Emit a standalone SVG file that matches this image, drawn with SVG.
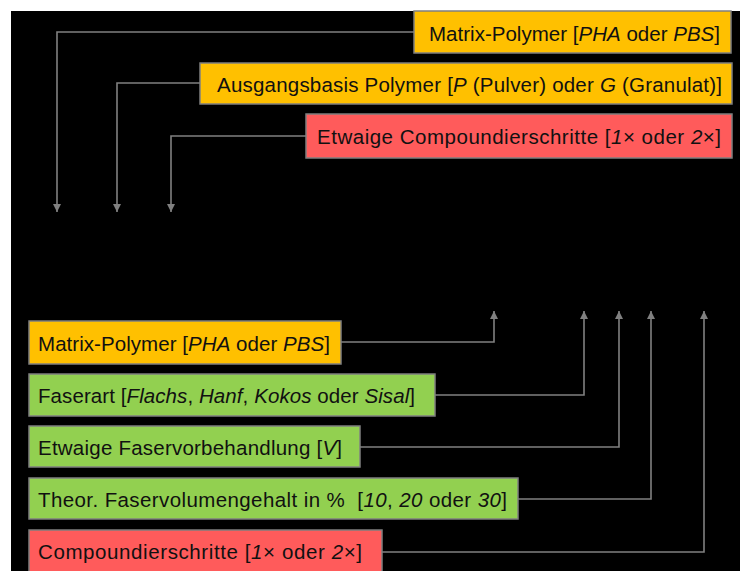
<svg xmlns="http://www.w3.org/2000/svg" width="740" height="571" viewBox="0 0 740 571">
<style>
.bg{fill:#000}
.box{stroke:#7f7f7f;stroke-width:1.5}
.o{fill:#FFC000}
.g{fill:#92D050}
.r{fill:#FF5B5B}
text{font-family:"Liberation Sans",Arial,sans-serif;font-size:20.5px;fill:#111;white-space:pre}
.i{font-style:italic}
.conn path{fill:none;stroke:#808080;stroke-width:1.6;marker-end:url(#arr)}
</style>
<defs>
<marker id="arr" markerUnits="userSpaceOnUse" markerWidth="8" markerHeight="9" refX="8" refY="4" orient="auto" viewBox="0 0 8 8">
<path d="M0,0 L8,4 L0,8 z" fill="#808080"/>
</marker>
</defs>
<rect x="0" y="0" width="740" height="571" fill="#fff"/>
<rect class="bg" x="11" y="11" width="729" height="560"/>
<g class="conn">
<path d="M414,32 H57 V212"/>
<path d="M200,83 H117 V212"/>
<path d="M306,136 H171 V212"/>
<path d="M341,342 H494 V311"/>
<path d="M435,395 H584 V311"/>
<path d="M360,447 H619 V311"/>
<path d="M518,499 H651 V311"/>
<path d="M382,552 H704 V311"/>
</g>
<g id="top-matrix">
<rect class="box o" x="414" y="11" width="317" height="42"/>
<text x="429" y="41" textLength="291" lengthAdjust="spacing">Matrix-Polymer [<tspan class="i">PHA</tspan> oder <tspan class="i">PBS</tspan>]</text>
</g>
<g id="top-basis">
<rect class="box o" x="200" y="63" width="532" height="41"/>
<text x="217" y="92" textLength="505" lengthAdjust="spacing">Ausgangsbasis Polymer [<tspan class="i">P</tspan> (Pulver) oder <tspan class="i">G</tspan> (Granulat)]</text>
</g>
<g id="top-compound">
<rect class="box r" x="306" y="114" width="426" height="44"/>
<text x="317" y="144" textLength="404" lengthAdjust="spacing">Etwaige Compoundierschritte [<tspan class="i">1</tspan>× oder <tspan class="i">2</tspan>×]</text>
</g>
<g id="bot-matrix">
<rect class="box o" x="29" y="321" width="312" height="43"/>
<text x="38" y="351" textLength="292" lengthAdjust="spacing">Matrix-Polymer [<tspan class="i">PHA</tspan> oder <tspan class="i">PBS</tspan>]</text>
</g>
<g id="bot-faserart">
<rect class="box g" x="29" y="374" width="406" height="42"/>
<text x="38" y="403" textLength="377" lengthAdjust="spacing">Faserart [<tspan class="i">Flachs</tspan>, <tspan class="i">Hanf</tspan>, <tspan class="i">Kokos</tspan> oder <tspan class="i">Sisal</tspan>]</text>
</g>
<g id="bot-vorbehandlung">
<rect class="box g" x="29" y="426" width="331" height="41"/>
<text x="38" y="455" textLength="304" lengthAdjust="spacing">Etwaige Faservorbehandlung [<tspan class="i">V</tspan>]</text>
</g>
<g id="bot-volumen">
<rect class="box g" x="29" y="478" width="489" height="41"/>
<text x="38" y="507" textLength="469" lengthAdjust="spacing">Theor. Faservolumengehalt in %  [<tspan class="i">10</tspan>, <tspan class="i">20</tspan> oder <tspan class="i">30</tspan>]</text>
</g>
<g id="bot-compound">
<rect class="box r" x="29" y="530" width="353" height="46"/>
<text x="38" y="559" textLength="324" lengthAdjust="spacing">Compoundierschritte [<tspan class="i">1</tspan>× oder <tspan class="i">2</tspan>×]</text>
</g>
</svg>
